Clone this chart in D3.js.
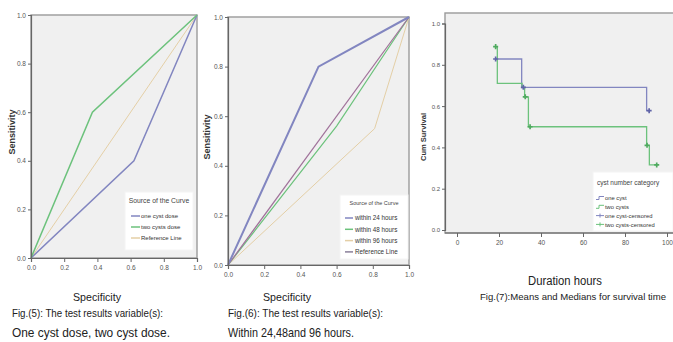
<!DOCTYPE html>
<html>
<head>
<meta charset="utf-8">
<script src="https://cdn.jsdelivr.net/npm/d3@7"></script>
<style>
  html, body { margin: 0; padding: 0; background: #fff; }
  svg { display: block; }
  text { font-family: "Liberation Sans Narrow", "Liberation Sans", Arial, sans-serif; }
</style>
</head>
<body>
<svg id="chart" width="673" height="342"></svg>
<script>
// ---------------- DATA ----------------
const rocTicks = [0, 0.2, 0.4, 0.6, 0.8, 1.0];
const kmYTicks = [0, 0.2, 0.4, 0.6, 0.8, 1.0];
const kmXTicks = [0, 20, 40, 60, 80, 100];

// Fig.(5)
const fig5Names = ["one cyst dose", "two cysts dose", "Reference Line"];
const fig5OneX = [0, 0.62, 1];
const fig5OneY = [0, 0.40, 1];
const fig5TwoX = [0, 0.37, 1];
const fig5TwoY = [0, 0.60, 1];
const fig5RefX = [0, 1];
const fig5RefY = [0, 1];

// Fig.(6)
const fig6Names = ["within 24 hours", "within 48 hours", "within 96 hours", "Reference Line"];
const fig6H24X = [0, 0.50, 1];
const fig6H24Y = [0, 0.80, 1];
const fig6H48X = [0, 0.60, 1];
const fig6H48Y = [0, 0.56, 1];
const fig6H96X = [0, 0.81, 1];
const fig6H96Y = [0, 0.55, 1];
const fig6RefX = [0, 1];
const fig6RefY = [0, 1];

// Fig.(7) Kaplan-Meier
const kmNames = ["one cyst", "two cysts", "one cyst-censored", "two cysts-censored"];
const kmOneT = [18.4, 30.8, 90.3, 91.5];
const kmOneS = [0.828, 0.691, 0.578, 0.578];
const kmTwoT = [18.4, 19.2, 31.0, 32.2, 34.0, 90.3, 91.6, 95.1];
const kmTwoS = [0.888, 0.710, 0.690, 0.645, 0.500, 0.410, 0.315, 0.315];
const kmOneCensT = [18.4, 31.6, 91.5];
const kmOneCensS = [0.828, 0.691, 0.578];
const kmTwoCensT = [18.4, 32.5, 34.8, 90.5, 95.1];
const kmTwoCensS = [0.888, 0.645, 0.500, 0.410, 0.315];

// ---------------- STYLE ----------------
const C_BLUE = "#8286c0";
const C_GREEN = "#6cc27c";
const C_TAN = "#e4cfa6";
const C_REF = "#a0729a";
const C_BG = "#f0f0f0";
const C_FRAME = "#9a9a9a";
const C_AXIS = "#666";
const C_TICKTXT = "#555";

const svg = d3.select("#chart");

function zip(xs, ys) { return xs.map((x, i) => ({ x: x, y: ys[i] })); }

function drawFrame(g, x, y) {
  const [x0, x1] = x.range();
  const [y0, y1] = y.range();
  g.append("rect")
    .attr("x", x0).attr("y", y1).attr("width", x1 - x0).attr("height", y0 - y1)
    .attr("fill", C_BG).attr("stroke", C_FRAME).attr("stroke-width", 1.4);
}

function styleAxis(sel) {
  sel.select(".domain").attr("stroke", C_AXIS).attr("stroke-width", 1.2);
  sel.selectAll(".tick line").attr("stroke", C_AXIS);
  sel.selectAll(".tick text").attr("fill", C_TICKTXT).style("font-size", "6.5px");
}

function drawLegend(g, box, title, items, opts) {
  g.append("rect").attr("x", box.x).attr("y", box.y).attr("width", box.w).attr("height", box.h)
    .attr("fill", "#fff").attr("stroke", "#f4f4f4");
  g.append("text").attr("x", box.x + box.w / 2 + (opts.titleDx || 0)).attr("y", box.y + opts.titleY)
    .attr("text-anchor", opts.titleAnchor || "middle")
    .attr("fill", "#444").style("font-size", opts.titleSize + "px").text(title);
  items.forEach((it, i) => {
    const yy = box.y + opts.firstY + i * opts.step;
    if (it.kind === "step") {
      g.append("path").attr("d", `M${box.x + opts.sx0},${yy + 1.5} L${box.x + opts.sx0 + 3},${yy + 1.5} L${box.x + opts.sx0 + 3},${yy - 1.5} L${box.x + opts.sx1},${yy - 1.5}`)
        .attr("fill", "none").attr("stroke", it.color).attr("stroke-width", 1);
    } else if (it.kind === "cens") {
      g.append("line").attr("x1", box.x + opts.sx0).attr("x2", box.x + opts.sx1).attr("y1", yy).attr("y2", yy)
        .attr("stroke", it.color).attr("stroke-width", 1);
      const cx = (2 * box.x + opts.sx0 + opts.sx1) / 2;
      g.append("line").attr("x1", cx).attr("x2", cx).attr("y1", yy - 2).attr("y2", yy + 2)
        .attr("stroke", it.color).attr("stroke-width", 1);
    } else {
      g.append("line").attr("x1", box.x + opts.sx0).attr("x2", box.x + opts.sx1).attr("y1", yy).attr("y2", yy)
        .attr("stroke", it.color).attr("stroke-width", it.w || 1.5);
    }
    g.append("text").attr("x", box.x + opts.tx).attr("y", yy + 2.2)
      .attr("fill", "#333").style("font-size", opts.size + "px").text(it.name);
  });
}

function rocPanel(cfg) {
  const g = svg.append("g");
  const x = d3.scaleLinear().domain([0, 1]).range([cfg.left, cfg.right]);
  const y = d3.scaleLinear().domain([0, 1]).range([cfg.bottom, cfg.top]);
  drawFrame(g, x, y);

  const line = d3.line().x(d => x(d.x)).y(d => y(d.y));
  cfg.series.forEach(s => {
    g.append("path").datum(zip(s.xs, s.ys)).attr("d", line)
      .attr("fill", "none").attr("stroke", s.color).attr("stroke-width", s.w || 1.4);
  });

  const ax = g.append("g").attr("transform", `translate(0,${cfg.bottom})`)
    .call(d3.axisBottom(x).tickValues(rocTicks).tickFormat(d3.format(".1f")).tickSize(4).tickPadding(3));
  styleAxis(ax);
  const ay = g.append("g").attr("transform", `translate(${cfg.left},0)`)
    .call(d3.axisLeft(y).tickValues(rocTicks).tickFormat(d3.format(".1f")).tickSize(3).tickPadding(2));
  styleAxis(ay);

  g.append("text").attr("transform", `translate(${cfg.ylabX},${cfg.ylabY}) rotate(-90)`)
    .attr("text-anchor", "middle").attr("fill", "#333").style("font-size", "9px").style("font-weight", "bold")
    .text("Sensitivity");

  drawLegend(g, cfg.legendBox, "Source of the Curve", cfg.legendItems, cfg.legendOpts);
  return g;
}

// Fig 5
rocPanel({
  left: 31, right: 197, top: 15, bottom: 258,
  series: [
    { xs: fig5RefX, ys: fig5RefY, color: C_TAN, w: 1 },
    { xs: fig5OneX, ys: fig5OneY, color: C_BLUE, w: 1.5 },
    { xs: fig5TwoX, ys: fig5TwoY, color: C_GREEN, w: 1.5 }
  ],
  ylabX: 15, ylabY: 132,
  legendBox: { x: 125, y: 192, w: 68, h: 58 },
  legendItems: [
    { name: fig5Names[0], color: C_BLUE },
    { name: fig5Names[1], color: C_GREEN },
    { name: fig5Names[2], color: C_TAN }
  ],
  legendOpts: { titleY: 11, titleSize: 6.8, firstY: 24, step: 11, sx0: 6, sx1: 15, tx: 16, size: 6 }
});

// Fig 6
rocPanel({
  left: 228, right: 409, top: 17, bottom: 265,
  series: [
    { xs: fig6H96X, ys: fig6H96Y, color: C_TAN, w: 1 },
    { xs: fig6H48X, ys: fig6H48Y, color: C_GREEN, w: 1.2 },
    { xs: fig6RefX, ys: fig6RefY, color: C_REF, w: 1.2 },
    { xs: fig6H24X, ys: fig6H24Y, color: C_BLUE, w: 2 }
  ],
  ylabX: 210, ylabY: 137,
  legendBox: { x: 340, y: 195, w: 68, h: 64 },
  legendItems: [
    { name: fig6Names[0], color: C_BLUE },
    { name: fig6Names[1], color: C_GREEN },
    { name: fig6Names[2], color: C_TAN },
    { name: fig6Names[3], color: "#8a7f9a" }
  ],
  legendOpts: { titleY: 10, titleSize: 5.5, firstY: 23, step: 11.3, sx0: 5, sx1: 13, tx: 15, size: 6.3 }
});

// Fig 7 (Kaplan-Meier)
(function () {
  const g = svg.append("g");
  const x = d3.scaleLinear().domain([0, 100]).range([457, 667]);
  const y = d3.scaleLinear().domain([0, 1]).range([230, 23.5]);
  g.append("rect").attr("x", 445).attr("y", 13).attr("width", 240).attr("height", 220)
    .attr("fill", C_BG).attr("stroke", C_FRAME).attr("stroke-width", 1.4);

  const step = d3.line().x(d => x(d.x)).y(d => y(d.y)).curve(d3.curveStepAfter);
  g.append("path").datum(zip(kmOneT, kmOneS)).attr("d", step)
    .attr("fill", "none").attr("stroke", C_BLUE).attr("stroke-width", 1.3);
  g.append("path").datum(zip(kmTwoT, kmTwoS)).attr("d", step)
    .attr("fill", "none").attr("stroke", C_GREEN).attr("stroke-width", 1.3);

  const plus = d3.symbol().type(d3.symbolCross).size(14);
  g.selectAll(".c1").data(zip(kmOneCensT, kmOneCensS)).join("path")
    .attr("transform", d => `translate(${x(d.x)},${y(d.y)})`).attr("d", plus)
    .attr("fill", "#6064a8");
  g.selectAll(".c2").data(zip(kmTwoCensT, kmTwoCensS)).join("path")
    .attr("transform", d => `translate(${x(d.x)},${y(d.y)})`).attr("d", plus)
    .attr("fill", "#4faa5f");

  const ax = g.append("g").attr("transform", "translate(0,233)")
    .call(d3.axisBottom(x).tickValues(kmXTicks).tickSize(4).tickPadding(3));
  ax.select(".domain").remove();
  g.append("line").attr("x1", 445).attr("x2", 673).attr("y1", 233).attr("y2", 233).attr("stroke", C_AXIS).attr("stroke-width", 1.2);
  styleAxis(ax);
  const ay = g.append("g").attr("transform", "translate(445,0)")
    .call(d3.axisLeft(y).tickValues(kmYTicks).tickFormat(d3.format(".1f")).tickSize(3).tickPadding(2));
  styleAxis(ay);
  ay.selectAll(".tick text").style("font-size", "6px");

  g.append("text").attr("transform", "translate(426,137) rotate(-90)")
    .attr("text-anchor", "middle").attr("fill", "#333").style("font-size", "7.5px").style("font-weight", "bold")
    .text("Cum Survival");

  drawLegend(g, { x: 593, y: 172, w: 80, h: 59 }, "cyst number category", [
    { name: kmNames[0], color: C_BLUE, kind: "step" },
    { name: kmNames[1], color: C_GREEN, kind: "step" },
    { name: kmNames[2], color: C_BLUE, kind: "cens" },
    { name: kmNames[3], color: C_GREEN, kind: "cens" }
  ], { titleY: 13, titleDx: -36, titleAnchor: "start", titleSize: 6.5, firstY: 26, step: 8.8, sx0: 3, sx1: 11, tx: 12, size: 5.8 });
})();

// ---------------- CAPTIONS ----------------
const cap = svg.append("g").attr("fill", "#222");
function txt(x, y, s, size, width, anchor) {
  cap.append("text").attr("x", x).attr("y", y).attr("text-anchor", anchor || "start")
    .attr("textLength", width).attr("lengthAdjust", "spacingAndGlyphs")
    .style("font-size", size + "px").text(s);
}
txt(97, 301, "Specificity", 11, 48, "middle");
txt(12, 317, "Fig.(5): The test results variable(s):", 11.5, 151);
txt(12, 337, "One cyst dose, two cyst dose.", 13, 158);
txt(287, 301, "Specificity", 11, 48, "middle");
txt(228, 317, "Fig.(6): The test results variable(s):", 11.5, 155);
txt(228, 337, "Within 24,48and 96 hours.", 13, 126);
txt(565, 285, "Duration hours", 12, 74, "middle");
txt(480, 300, "Fig.(7):Means and Medians for survival time", 9.8, 186);
</script>
</body>
</html>
